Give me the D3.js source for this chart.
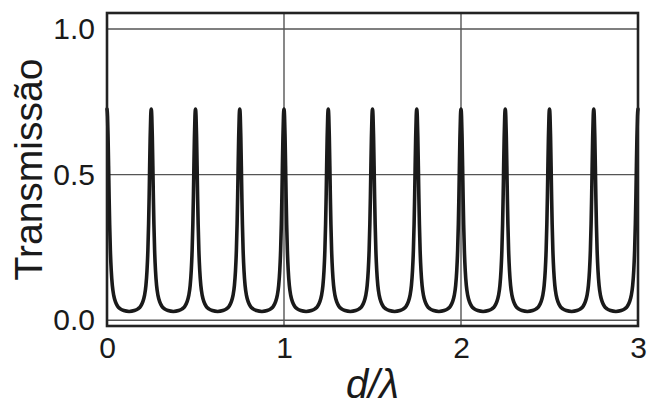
<!DOCTYPE html>
<html>
<head>
<meta charset="utf-8">
<script src="https://cdnjs.cloudflare.com/ajax/libs/d3/7.8.5/d3.min.js"></script>
<style>
  body { margin: 0; background: #fff; }
  text { font-family: "Liberation Sans", Arial, sans-serif; fill: #1a1a1a; }
</style>
</head>
<body>
<div id="viz"></div>
<script>
// peaks of the transmission curve (d/lambda)
var peakPositions = [0, 0.25, 0.5, 0.75, 1, 1.25, 1.5, 1.75, 2, 2.25, 2.5, 2.75, 3];
// shape of one peak: distance from the peak centre -> transmission
var peakOffsets = [0, 0.003, 0.006, 0.009, 0.012, 0.015, 0.019, 0.024, 0.030, 0.038, 0.048, 0.060, 0.075, 0.095, 0.125];
var peakValues  = [0.725, 0.70, 0.63, 0.53, 0.42, 0.33, 0.24, 0.17, 0.12, 0.085, 0.063, 0.048, 0.039, 0.033, 0.030];

var xTicks = [0, 1, 2, 3];
var yTicks = [0, 0.5, 1.0];
var xLabel = 'd/λ';
var yLabel = 'Transmissão';

var width = 654,
    height = 408;

var svg = d3.select('#viz').append('svg')
  .attr('width', width)
  .attr('height', height)

var x = d3.scaleLinear()
  .domain([0, 3])
  .range([107, 638])

var y = d3.scaleLinear()
  .domain([-0.02, 1.055])
  .range([326, 13])

// build the curve: each gap between two peaks = right flank of one + left flank of the next
var curve = [];
for (var i = 0; i < peakPositions.length - 1; i++) {
  var p0 = peakPositions[i], p1 = peakPositions[i+1];
  peakOffsets.forEach(function(o, j){
    curve.push({x: p0 + o, y: peakValues[j]})
  })
  for (var j = peakOffsets.length - 2; j > 0; j--) {
    curve.push({x: p1 - peakOffsets[j], y: peakValues[j]})
  }
}
curve.push({x: peakPositions[peakPositions.length-1], y: peakValues[0]})

// grid
svg.append('g').selectAll('line.gx')
  .data(xTicks.slice(1, -1))
  .enter().append('line')
  .attr('x1', function(d){ return x(d) })
  .attr('x2', function(d){ return x(d) })
  .attr('y1', y.range()[0])
  .attr('y2', y.range()[1])
  .attr('stroke', '#555')
  .attr('stroke-width', 1.4)

svg.append('g').selectAll('line.gy')
  .data(yTicks)
  .enter().append('line')
  .attr('x1', x.range()[0])
  .attr('x2', x.range()[1])
  .attr('y1', function(d){ return y(d) })
  .attr('y2', function(d){ return y(d) })
  .attr('stroke', '#555')
  .attr('stroke-width', 1.4)

// curve
var line = d3.line()
  .x(function(d){ return x(d.x) })
  .y(function(d){ return y(d.y) })
  .curve(d3.curveMonotoneX)

svg.append('path')
  .datum(curve)
  .attr('d', line)
  .attr('fill', 'none')
  .attr('stroke', '#1a1a1a')
  .attr('stroke-width', 3.6)
  .attr('stroke-linejoin', 'round')
  .attr('stroke-linecap', 'round')

// frame
svg.append('rect')
  .attr('x', x.range()[0])
  .attr('y', y.range()[1])
  .attr('width', x.range()[1] - x.range()[0])
  .attr('height', y.range()[0] - y.range()[1])
  .attr('fill', 'none')
  .attr('stroke', '#222')
  .attr('stroke-width', 2.6)

// axes, labels only
var xAxis = d3.axisBottom(x).tickValues(xTicks).tickFormat(d3.format('d')).tickSize(0).tickPadding(11);
var gx = svg.append('g')
  .attr('transform', 'translate(0,' + y.range()[0] + ')')
  .call(xAxis)
gx.select('.domain').remove()
gx.selectAll('text').attr('font-size', 30).attr('font-family', null).attr('fill', '#1a1a1a')

var yAxis = d3.axisLeft(y).tickValues(yTicks).tickFormat(d3.format('.1f')).tickSize(0).tickPadding(12);
var gy = svg.append('g')
  .attr('transform', 'translate(' + x.range()[0] + ',0)')
  .call(yAxis)
gy.select('.domain').remove()
gy.selectAll('text').attr('font-size', 30).attr('font-family', null).attr('fill', '#1a1a1a')

svg.append('text')
  .attr('x', (x.range()[0] + x.range()[1]) / 2)
  .attr('y', 398)
  .attr('text-anchor', 'middle')
  .attr('font-size', 40)
  .attr('font-style', 'italic')
  .text(xLabel)

svg.append('text')
  .attr('transform', 'translate(42,' + ((y.range()[0] + y.range()[1]) / 2) + ') rotate(-90)')
  .attr('text-anchor', 'middle')
  .attr('font-size', 39)
  .text(yLabel)
</script>
</body>
</html>
